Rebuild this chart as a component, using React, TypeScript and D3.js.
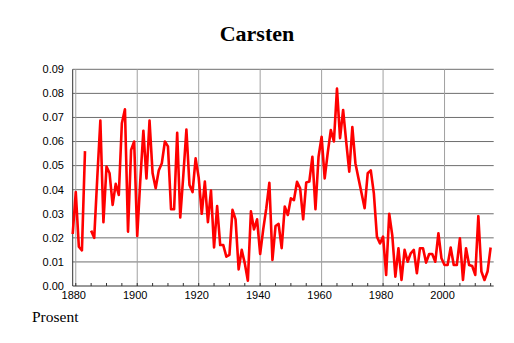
// Carsten name share per year, line chart drawn with d3
import * as d3 from "d3";
import { useEffect, useRef } from "react";

const title = "Carsten";
const unitLabel = "Prosent";
const firstYear = 1879;

// share of newborns per year (null = no data)
const shares: (number | null)[] = [
  // 1879-1888
  0.0216, 0.039, 0.0163, 0.0148, 0.056, null, 0.023, 0.02, 0.045, 0.0687,
  // 1889-1898
  0.0265, 0.0496, 0.0468, 0.0337, 0.0424, 0.0378, 0.0676, 0.0734, 0.0226, 0.0565,
  // 1899-1908
  0.06, 0.0208, 0.044, 0.0645, 0.0447, 0.0687, 0.0468, 0.0406, 0.048, 0.051,
  // 1909-1918
  0.06, 0.058, 0.0319, 0.0319, 0.0636, 0.0285, 0.046, 0.065, 0.042, 0.039,
  // 1919-1928
  0.053, 0.045, 0.03, 0.0434, 0.0265, 0.0396, 0.016, 0.0332, 0.017, 0.017,
  // 1929-1938
  0.0122, 0.0129, 0.0316, 0.0277, 0.0069, 0.015, 0.0094, 0.0022, 0.031, 0.0235,
  // 1939-1948
  0.0277, 0.0133, 0.0235, 0.0323, 0.0429, 0.0108, 0.0249, 0.0258, 0.0157, 0.033,
  // 1949-1958
  0.0295, 0.0364, 0.0357, 0.0433, 0.0406, 0.0277, 0.043, 0.0434, 0.0537, 0.0319,
  // 1959-1968
  0.0537, 0.062, 0.0447, 0.0554, 0.0648, 0.06, 0.082, 0.0614, 0.0731, 0.06,
  // 1969-1978
  0.0475, 0.066, 0.051, 0.0447, 0.0385, 0.0323, 0.0468, 0.048, 0.0385, 0.0205,
  // 1979-1988
  0.0177, 0.0205, 0.0046, 0.03, 0.021, 0.0039, 0.0157, 0.0025, 0.015, 0.0101,
  // 1989-1998
  0.0136, 0.015, 0.0053, 0.0157, 0.0157, 0.0097, 0.0133, 0.0133, 0.0101, 0.0219,
  // 1999-2008
  0.0115, 0.0087, 0.0087, 0.016, 0.0087, 0.0087, 0.0198, 0.0025, 0.0157, 0.0087,
  // 2009-2015
  0.0083, 0.0046, 0.029, 0.006, 0.0025, 0.006, 0.016,
];

const yTicks = [0, 0.01, 0.02, 0.03, 0.04, 0.05, 0.06, 0.07, 0.08, 0.09];
const xTicks = [1880, 1900, 1920, 1940, 1960, 1980, 2000];
const xMinorTicks = d3.range(1880, 2016, 5);

export default function App() {
  const svgRef = useRef<SVGSVGElement>(null);

  useEffect(() => {
    const svg = d3.select(svgRef.current);
    svg.selectAll("*").remove();

    const width = 514;
    const height = 343;
    const left = 72.7;
    const right = 493.7;
    const top = 69.3;
    const bottom = 286;

    svg.append("rect").attr("width", width).attr("height", height).attr("fill", "#fff");

    const x = d3.scaleLinear().domain([1879, 2016]).range([left, right]);
    const y = d3.scaleLinear().domain([0, 0.09]).range([bottom, top]);

    // horizontal grid
    svg
      .append("g")
      .selectAll("line")
      .data(yTicks.slice(1))
      .enter()
      .append("line")
      .attr("x1", left)
      .attr("x2", right)
      .attr("y1", (d) => y(d))
      .attr("y2", (d) => y(d))
      .attr("stroke", "#6e6e6e")
      .attr("stroke-width", 1);

    // vertical grid
    svg
      .append("g")
      .selectAll("line")
      .data(xTicks)
      .enter()
      .append("line")
      .attr("x1", (d) => x(d))
      .attr("x2", (d) => x(d))
      .attr("y1", top)
      .attr("y2", bottom)
      .attr("stroke", "#a0a0a0")
      .attr("stroke-width", 1);

    // minor ticks on x axis
    svg
      .append("g")
      .selectAll("line")
      .data(xMinorTicks)
      .enter()
      .append("line")
      .attr("x1", (d) => x(d))
      .attr("x2", (d) => x(d))
      .attr("y1", bottom - 3)
      .attr("y2", bottom)
      .attr("stroke", "#333")
      .attr("stroke-width", 1);

    // axes lines
    svg
      .append("line")
      .attr("x1", left)
      .attr("x2", left)
      .attr("y1", top)
      .attr("y2", bottom)
      .attr("stroke", "#333");
    svg
      .append("line")
      .attr("x1", left)
      .attr("x2", right)
      .attr("y1", bottom)
      .attr("y2", bottom)
      .attr("stroke", "#333");

    // y labels
    svg
      .append("g")
      .selectAll("text")
      .data(yTicks)
      .enter()
      .append("text")
      .attr("x", 64)
      .attr("y", (d) => y(d))
      .attr("dy", "0.35em")
      .attr("text-anchor", "end")
      .style("font-family", "'Liberation Sans', Arial, sans-serif")
      .style("font-size", "11px")
      .text((d) => d.toFixed(2));

    // x labels
    svg
      .append("g")
      .selectAll("text")
      .data(xTicks)
      .enter()
      .append("text")
      .attr("x", (d) => x(d) - 2)
      .attr("y", 299)
      .attr("text-anchor", "middle")
      .style("font-family", "'Liberation Sans', Arial, sans-serif")
      .style("font-size", "11px")
      .text((d) => String(d));

    // the red line
    const line = d3
      .line<number | null>()
      .defined((d) => d != null)
      .x((d, i) => x(firstYear + i))
      .y((d) => y(d as number));

    svg
      .append("path")
      .datum(shares)
      .attr("d", line)
      .attr("fill", "none")
      .attr("stroke", "#ff0000")
      .attr("stroke-width", 2.6)
      .attr("stroke-linejoin", "round");

    // title
    svg
      .append("text")
      .attr("x", 257)
      .attr("y", 41)
      .attr("text-anchor", "middle")
      .style("font-family", "'Liberation Serif', 'Times New Roman', serif")
      .style("font-weight", "bold")
      .style("font-size", "22px")
      .text(title);

    // unit label
    svg
      .append("text")
      .attr("x", 32)
      .attr("y", 322)
      .style("font-family", "'Liberation Serif', 'Times New Roman', serif")
      .style("font-size", "15.5px")
      .text(unitLabel);
  }, []);

  return (
    <div style={{ position: "fixed", left: 0, top: 0 }}>
      <svg ref={svgRef} width={514} height={343} style={{ display: "block" }} />
    </div>
  );
}
